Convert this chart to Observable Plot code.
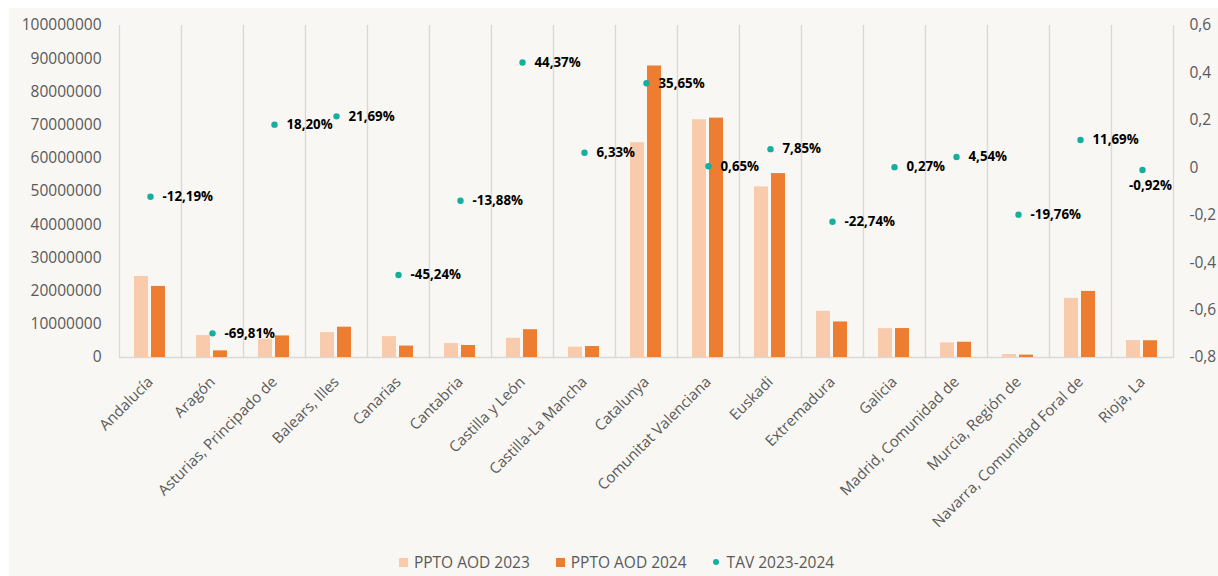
<!DOCTYPE html>
<html>
<head>
<meta charset="utf-8">
<script src="https://cdn.jsdelivr.net/npm/d3@7"></script>
<script src="https://cdn.jsdelivr.net/npm/@observablehq/plot@0.6"></script>
<style>
  html, body { margin: 0; padding: 0; background: #ffffff; }
  #wrap { position: absolute; left: 9px; top: 8px; width: 1209px; height: 568px; background: #F8F7F3; font-family: "Open Sans", sans-serif; overflow: hidden; }
  #chart { position: absolute; left: 0; top: 0; }
  #legend { position: absolute; left: 6px; right: 0; top: 540px; height: 28px; display: flex; justify-content: center; align-items: center; font-size: 15.5px; color: #595959; }
  .item { display: flex; align-items: center; margin: 0 13px; }
  .sw { width: 9px; height: 9px; margin-right: 6px; }
  .dot { width: 6px; height: 6px; border-radius: 50%; margin-right: 8px; }
</style>
</head>
<body>
<div id="wrap"><div id="chart"></div><div id="legend"></div></div>
<script>
const regions = ["Andalucía", "Aragón", "Asturias, Principado de", "Balears, Illes", "Canarias", "Cantabria", "Castilla y León", "Castilla-La Mancha", "Catalunya", "Comunitat Valenciana", "Euskadi", "Extremadura", "Galicia", "Madrid, Comunidad de", "Murcia, Región de", "Navarra, Comunidad Foral de", "Rioja, La"];
const ppto2023 = [24400000, 6600000, 5500000, 7500000, 6300000, 4200000, 5800000, 3100000, 64700000, 71600000, 51400000, 13900000, 8700000, 4400000, 900000, 17800000, 5100000];
const ppto2024 = [21400000, 2000000, 6500000, 9130000, 3450000, 3620000, 8370000, 3300000, 87800000, 72100000, 55400000, 10700000, 8720000, 4600000, 720000, 19900000, 5050000];
const tav = [-0.1219, -0.6981, 0.1820, 0.2169, -0.4524, -0.1388, 0.4437, 0.0633, 0.3565, 0.0065, 0.0785, -0.2274, 0.0027, 0.0454, -0.1976, 0.1169, -0.0092];
const seriesNames = ["PPTO AOD 2023", "PPTO AOD 2024", "TAV 2023-2024"];
const seriesColors = ["#F8CBAD", "#ED7D31", "#16AE9D"];
const leftTicks = [0, 10000000, 20000000, 30000000, 40000000, 50000000, 60000000, 70000000, 80000000, 90000000, 100000000];
const rightTicks = [-0.8, -0.6, -0.4, -0.2, 0, 0.2, 0.4, 0.6];

const leftMax = 100000000;
const toLeft = d3.scaleLinear().domain([-0.8, 0.6]).range([0, leftMax]);

const bars = regions.flatMap((r, i) => [
  {region: r, series: seriesNames[0], value: ppto2023[i]},
  {region: r, series: seriesNames[1], value: ppto2024[i]}
]);
const rates = regions.map((r, i) => ({region: r, tav: tav[i]}));
const fmtPct = v => (v * 100).toFixed(2).replace(".", ",") + "%";
const fmtRight = d => { const v = Math.round(toLeft.invert(d) * 10) / 10; return v === 0 ? "0" : v.toFixed(1).replace(".", ","); };

const gray = "#595959";
const sep = "#D9D9D9";

const chart = Plot.plot({
  width: 1209,
  height: 540,
  marginLeft: 107,
  marginRight: 43,
  marginTop: 17,
  marginBottom: 191,
  style: {background: "transparent", fontFamily: "Open Sans, sans-serif"},
  fx: {domain: regions, padding: 0},
  x: {domain: seriesNames.slice(0, 2), paddingInner: 0.17, paddingOuter: 0.87, axis: null},
  y: {domain: [0, leftMax]},
  color: {domain: seriesNames, range: seriesColors},
  marks: [
    Plot.frame({anchor: "left", stroke: sep, strokeWidth: 1.2}),
    Plot.frame({anchor: "right", stroke: sep, strokeWidth: 1.2}),
    Plot.ruleY([0], {stroke: sep, strokeWidth: 1.5}),
    Plot.barY(bars, {fx: "region", x: "series", y: "value", fill: "series"}),
    Plot.dot(rates, {fx: "region", y: d => toLeft(d.tav), r: 3.2, fill: seriesColors[2]}),
    Plot.text(rates, {filter: d => d.region !== "Rioja, La", fx: "region", y: d => toLeft(d.tav), text: d => fmtPct(d.tav), dx: 12, textAnchor: "start", fontWeight: "bold", fontSize: 13.3, fill: "#000"}),
    Plot.text(rates, {filter: d => d.region === "Rioja, La", fx: "region", y: d => toLeft(d.tav), text: d => fmtPct(d.tav), dx: 8, dy: 16, textAnchor: "middle", fontWeight: "bold", fontSize: 13.3, fill: "#000"}),
    Plot.axisY(leftTicks, {anchor: "left", tickSize: 0, tickPadding: 18, tickFormat: d => String(d), fontSize: 15.5, color: gray, label: null}),
    Plot.axisY(rightTicks.map(t => toLeft(t)), {anchor: "right", tickSize: 0, tickPadding: 16, tickFormat: fmtRight, fontSize: 15.5, color: gray, label: null}),
    Plot.axisFx({anchor: "bottom", tickRotate: -45, tickSize: 0, tickPadding: 22, fontSize: 15, color: gray, label: null})
  ]
});
document.getElementById("chart").appendChild(chart);

const legend = document.getElementById("legend");
seriesNames.forEach((name, i) => {
  const item = document.createElement("div");
  item.className = "item";
  const sw = document.createElement("span");
  sw.className = i === 2 ? "dot" : "sw";
  sw.style.background = seriesColors[i];
  const label = document.createElement("span");
  label.textContent = name;
  item.appendChild(sw);
  item.appendChild(label);
  legend.appendChild(item);
});
</script>
</body>
</html>
